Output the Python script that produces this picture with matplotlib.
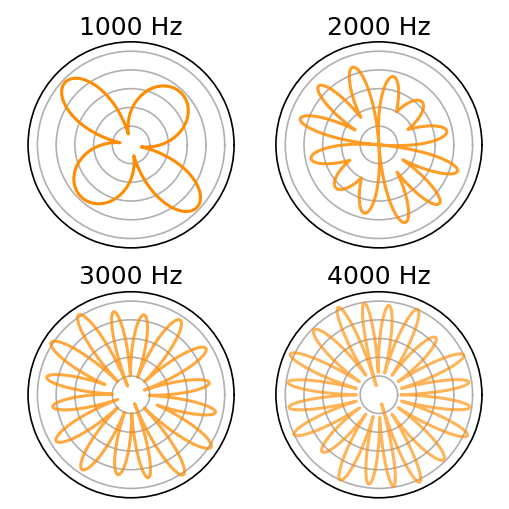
import numpy as np
import matplotlib
matplotlib.use('Agg')
from matplotlib import pyplot as plt

freqs = [1000, 2000, 3000, 4000]

# pattern repeats every 180 deg, so only half a turn is listed
# null angles (deg), radius at each null, peak of the lobe that starts at each null
nulls_1000 = [-11, 104]
floor_1000 = [0.12, 0.12]
peak_1000 = [0.77, 0.97]

nulls_2000 = [-5, 28, 62, 94, 123.5, 148]
floor_2000 = [0.0, 0.35, 0.4, 0.0, 0.35, 0.3]
peak_2000 = [0.74, 0.65, 0.745, 0.875, 0.9, 0.885]

nulls_3000 = [-2, 19.5, 44, 69.5, 92, 111.5, 135, 158.5]
floor_3000 = [0.2, 0.15, 0.2, 0.2, 0.2, 0.1, 0.2, 0.3]
peak_3000 = [0.845, 0.94, 0.955, 0.865, 0.905, 1.02, 1.02, 0.92]

nulls_4000 = [0.1, 15.9, 34.3, 56, 75.2, 91.9, 106.3, 123.8, 146.2, 164.3]
floor_4000 = [0.24, 0.25, 0.25, 0.25, 0.24, 0.24, 0.1, 0.25, 0.25, 0.25]
peak_4000 = [0.97, 1.0, 0.86, 1.0, 0.96, 0.99, 1.03, 0.98, 1.04, 0.98]

nulls = [nulls_1000, nulls_2000, nulls_3000, nulls_4000]
floors = [floor_1000, floor_2000, floor_3000, floor_4000]
peaks = [peak_1000, peak_2000, peak_3000, peak_4000]
alphas = [1.0, 0.85, 0.75, 0.65]


def lobes(nl, fl, pk):
    th, rr = [], []
    for half in [0, 180]:
        for i in range(len(nl)):
            a = nl[i]
            b = nl[i + 1] if i + 1 < len(nl) else nl[0] + 180
            fa = fl[i]
            fb = fl[(i + 1) % len(nl)]
            t = np.linspace(0, 1, 80)
            base = fa + (fb - fa) * t
            th.append(a + (b - a) * t + half)
            rr.append(base + (pk[i] - base) * np.sin(np.pi * t))
    return np.radians(np.concatenate(th)), np.concatenate(rr)


fig, axs = plt.subplots(2, 2, figsize=(5.1, 5.1), dpi=100, subplot_kw={'projection': 'polar'})
plt.subplots_adjust(left=0.055, right=0.945, bottom=0.022, top=0.916, wspace=0.203, hspace=0.213)

for ax, f, nl, fl, pk, al in zip(axs.flat, freqs, nulls, floors, peaks, alphas):
    th, r = lobes(nl, fl, pk)
    ax.plot(th, r, color='darkorange', alpha=al, lw=2.2)
    ax.set_rlim(0, 1.1)
    ax.set_rticks([0.2, 0.4, 0.6, 0.8, 1.0])
    ax.set_yticklabels([])
    ax.set_xticks([])
    ax.grid(True, color='#b0b0b0', lw=1.2)
    ax.spines['polar'].set_linewidth(1.2)
    ax.set_title(str(f) + ' Hz', fontsize=18)

plt.savefig('out.png')
